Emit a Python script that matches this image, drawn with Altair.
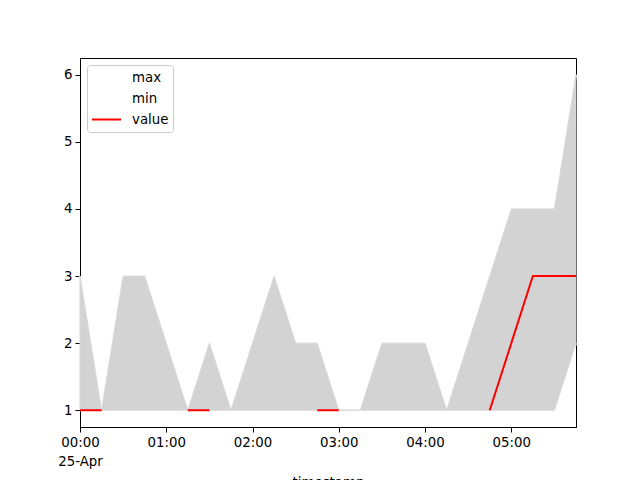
import altair as alt
import pandas as pd

times = pd.date_range("2024-04-25T00:00:00Z", periods=24, freq="15min").strftime("%Y-%m-%dT%H:%M:%SZ").tolist()
max_vals = [3, 1, 3, 3, 2, 1, 2, 1, 2, 3, 2, 2, 1, 1, 2, 2, 2, 1, 2, 3, 4, 4, 4, 6]
min_vals = [1, 1, 1, 1, 1, 1, 1, 1, 1, 1, 1, 1, 1, 1, 1, 1, 1, 1, 1, 1, 1, 1, 1, 2]
values = [1, 1, None, None, None, 1, 1, None, None, None, None, 1, 1, None, None, None,
          None, None, None, 1, 2, 3, 3, 3]

wide = pd.DataFrame({"timestamp": times, "max": max_vals, "min": min_vals, "value": values})
long = wide.melt(id_vars="timestamp", var_name="series", value_name="y")

font = "DejaVu Sans"
fs = 13.33
xscale = alt.Scale(type="utc", domain=[alt.DateTime(year=2024, month=4, date=25, hours=0, utc=True),
                                       alt.DateTime(year=2024, month=4, date=25, hours=5, minutes=45, utc=True)],
                   nice=False)
yscale = alt.Scale(domain=[0.75, 6.25], nice=False, zero=False)
color_scale = alt.Scale(domain=["max", "min", "value"], range=["white", "white", "red"])

xaxis = alt.Axis(
    values=[alt.DateTime(year=2024, month=4, date=25, hours=h, utc=True) for h in range(6)],
    labelExpr="utchours(datum.value)==0 ? ['00:00','25-Apr'] : utcFormat(datum.value,'%H:%M')",
    title="timestamp", grid=False, labelFont=font, labelFontSize=fs, titleFont=font,
    titleFontSize=fs, titleFontWeight="normal", labelColor="black", titleColor="black",
    tickColor="black", domainColor="black", tickSize=5, labelPadding=3, titlePadding=8,
    labelFlush=False, labelLineHeight=19,
)
yaxis = alt.Axis(values=[1, 2, 3, 4, 5, 6], format="d", title=None, grid=False, labelFont=font,
                 labelFontSize=fs, labelColor="black", tickColor="black", domainColor="black",
                 tickSize=5, labelPadding=3)

legend = alt.Legend(
    title=None, orient="none", legendX=7, legendY=7, symbolType="stroke", symbolSize=841,
    symbolStrokeWidth=2, labelFont=font, labelFontSize=fs, labelColor="black", labelOffset=10,
    fillColor="white", strokeColor="#cccccc", cornerRadius=3, padding=4, rowPadding=4,
    clipHeight=17,
)

base = alt.Chart(long)

white_lines = base.transform_filter(alt.FieldOneOfPredicate(field="series", oneOf=["max", "min"])).mark_line(
    strokeWidth=2).encode(
    x=alt.X("timestamp:T", scale=xscale, axis=xaxis),
    y=alt.Y("y:Q", scale=yscale, axis=yaxis),
    color=alt.Color("series:N", scale=color_scale, legend=legend),
    detail="series:N",
)

area = alt.Chart(wide).mark_area(color="#d3d3d3", stroke="#d8d8d8", strokeWidth=1).encode(
    x=alt.X("timestamp:T", scale=xscale),
    y=alt.Y("max:Q", scale=yscale),
    y2="min:Q",
)

red_line = base.transform_filter(alt.datum.series == "value").mark_line(strokeWidth=2).encode(
    x=alt.X("timestamp:T", scale=xscale),
    y=alt.Y("y:Q", scale=yscale),
    color=alt.Color("series:N", scale=color_scale, legend=legend),
)

chart = alt.layer(white_lines, area, red_line).properties(
    width=496, height=369,
    autosize=alt.AutoSizeParams(type="none"),
    padding={"left": 72, "top": 50, "right": 56, "bottom": 70},
).configure_view(stroke="black", strokeWidth=1)

chart.save("out.html", embed_options={"renderer": "svg", "actions": False})
